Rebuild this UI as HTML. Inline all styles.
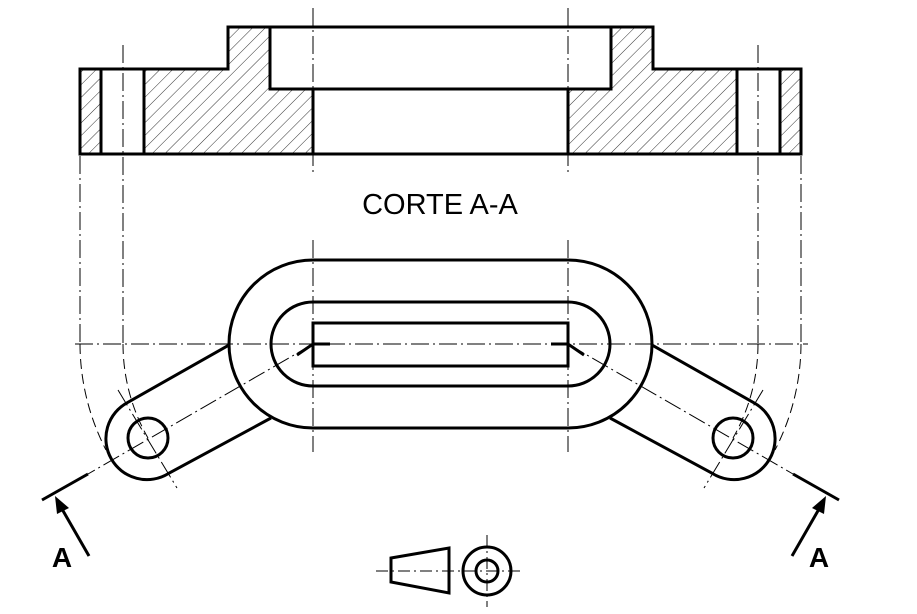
<!DOCTYPE html>
<html><head><meta charset="utf-8"><style>html,body{margin:0;padding:0;background:#fff}svg{display:block}</style></head>
<body>
<svg width="917" height="614" viewBox="0 0 917 614" xmlns="http://www.w3.org/2000/svg">
<defs>
<pattern id="h" width="9" height="9" patternUnits="userSpaceOnUse" patternTransform="rotate(45)">
<line x1="0" y1="0" x2="0" y2="9" stroke="#333" stroke-width="1"/>
</pattern>
</defs>
<g fill="url(#h)" stroke="none">
<rect x="80" y="69" width="21" height="85"/>
<rect x="780" y="69" width="21" height="85"/>
<path d="M144 69 L228 69 L228 27 L270 27 L270 89 L313 89 L313 154 L144 154 Z"/>
<path d="M737 69 L653 69 L653 27 L611 27 L611 89 L568 89 L568 154 L737 154 Z"/>
</g>
<g fill="none" stroke="#000" stroke-width="3">
<path d="M80 69 L228 69 L228 27 L653 27 L653 69 L801 69 L801 154 L80 154 Z"/>
<line x1="101" y1="69" x2="101" y2="154"/><line x1="144" y1="69" x2="144" y2="154"/>
<line x1="737" y1="69" x2="737" y2="154"/><line x1="780" y1="69" x2="780" y2="154"/>
<path d="M270 27 L270 89 L611 89 L611 27"/>
<line x1="313" y1="89" x2="313" y2="154"/><line x1="568" y1="89" x2="568" y2="154"/>
</g>
<g stroke="#000" stroke-width="1" stroke-dasharray="18,4,2,4" fill="none">
<line x1="313" y1="8" x2="313" y2="172"/><line x1="568" y1="8" x2="568" y2="172"/>
<line x1="313" y1="240" x2="313" y2="452"/><line x1="568" y1="240" x2="568" y2="452"/>
<line x1="75" y1="344" x2="808" y2="344"/>
</g>
<text x="440" y="214" text-anchor="middle" font-family="Liberation Sans, sans-serif" font-size="29">CORTE A-A</text>
<g fill="none" stroke="#000" stroke-width="3">
<path d="M313 260 L568 260 A84 84 0 0 1 568 428 L313 428 A84 84 0 0 1 313 260 Z"/>
<path d="M313 302 L568 302 A42 42 0 0 1 568 386 L313 386 A42 42 0 0 1 313 302 Z"/>
<rect x="313" y="323" width="255" height="43"/>
</g>
<g id="arm">
<g fill="none" stroke="#000" stroke-width="3">
<path d="M228.5 345.3 L127.7 402.4 A41 41 0 1 0 168.3 473.6 L271 418"/>
<circle cx="148" cy="438" r="20"/>
<line x1="42" y1="500" x2="88" y2="474"/>
<path d="M297 355 L313 344 L330 344"/>
<line x1="89" y1="556" x2="62" y2="509"/>
</g>
<polygon points="55,496 69,508 57,514" fill="#000"/>
<g stroke="#000" stroke-width="1" fill="none" stroke-dasharray="18,4,2,4">
<line x1="80" y1="156" x2="80" y2="344"/>
<line x1="123" y1="45" x2="123" y2="344"/>
<line x1="313" y1="344" x2="88" y2="474"/>
<line x1="118" y1="390" x2="177" y2="488"/>
</g>
<g stroke="#000" stroke-width="1" fill="none" stroke-dasharray="10,5">
<path d="M80 344 A233 233 0 0 0 106 450"/>
<path d="M123 344 A190 190 0 0 0 148 438"/>
</g>
</g>
<use href="#arm" transform="translate(881,0) scale(-1,1)"/>
<text x="62" y="567" text-anchor="middle" font-family="Liberation Sans, sans-serif" font-size="28" font-weight="bold">A</text>
<text x="819" y="567" text-anchor="middle" font-family="Liberation Sans, sans-serif" font-size="28" font-weight="bold">A</text>
<g fill="none" stroke="#000" stroke-width="3">
<path d="M391 558 L449 548 L449 593 L391 582 Z"/>
<circle cx="487" cy="571" r="24"/>
<circle cx="487" cy="571" r="11"/>
</g>
<g stroke="#000" stroke-width="1" stroke-dasharray="12,4,2,4">
<line x1="376" y1="571" x2="523" y2="571"/>
<line x1="487" y1="535" x2="487" y2="607"/>
</g>
</svg>
</body></html>
